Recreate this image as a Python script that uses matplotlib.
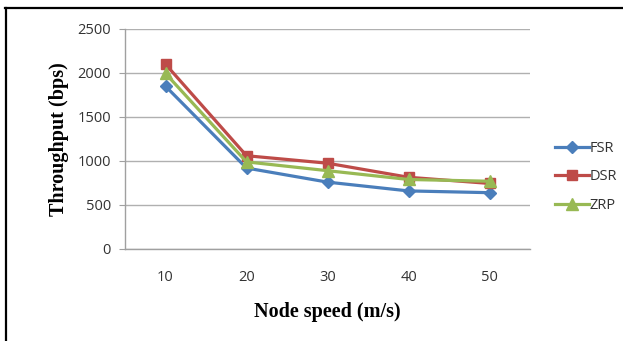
import matplotlib
matplotlib.use("Agg")
import matplotlib.pyplot as plt
from matplotlib.lines import Line2D

speeds = ["10", "20", "30", "40", "50"]
fsr = [1850, 920, 760, 660, 640]
dsr = [2100, 1060, 975, 815, 745]
zrp = [1995, 990, 890, 790, 770]

series = [
    ("FSR", fsr, "#4a7ebb", "D", 6.5),
    ("DSR", dsr, "#be4b48", "s", 7.5),
    ("ZRP", zrp, "#98b954", "^", 8),
]

tick_font = "Open Sans"

W, H = 623, 341
fig = plt.figure(figsize=(W / 100, H / 100), dpi=100)
ax = fig.add_axes([125 / W, 1 - 249 / H, 405 / W, 220 / H])

x = list(range(len(speeds)))
for name, vals, color, marker, msize in series:
    ax.plot(x, vals, color=color, lw=2.3, marker=marker, ms=msize,
            mec=color, mfc=color, label=name, zorder=3)

ax.set_xlim(-0.5, len(speeds) - 0.5)
ax.set_ylim(0, 2500)
ax.set_yticks(range(0, 2501, 500))
ax.set_xticks(x)
ax.set_xticklabels(speeds)
ax.yaxis.grid(True, color="#b0b0b0", lw=1.0)
ax.axhline(0, color="#a0a0a0", lw=1.0, clip_on=False, zorder=1)
ax.set_axisbelow(True)

for side in ["top", "right", "bottom"]:
    ax.spines[side].set_visible(False)
ax.spines["left"].set_color("#a0a0a0")
ax.spines["left"].set_linewidth(1.0)

ax.tick_params(axis="y", length=4, color="#a0a0a0", labelsize=10.5,
               labelcolor="#333333", pad=6)
ax.tick_params(axis="x", length=0, labelsize=10.5, labelcolor="#333333", pad=15)
for lbl in ax.get_xticklabels() + ax.get_yticklabels():
    lbl.set_family(tick_font)

ax.set_xlabel("Node speed (m/s)", family="Liberation Serif", fontweight="bold",
              fontsize=14.5, labelpad=12)
ax.set_ylabel("Throughput (bps)", family="Liberation Serif", fontweight="bold",
              fontsize=14.5, labelpad=6)

leg = fig.legend(loc="center left", bbox_to_anchor=(555 / W, 1 - 177 / H),
                 frameon=False, fontsize=10.5, handlelength=2.3,
                 handletextpad=0.1, labelspacing=0.95, borderaxespad=0,
                 borderpad=0)
for t in leg.get_texts():
    t.set_family(tick_font)
    t.set_color("#333333")

# outer frame: only top and left edges are visible
fig.add_artist(Line2D([5 / W, 1], [1 - 8 / H, 1 - 8 / H], color="black",
                      lw=1.6, transform=fig.transFigure))
fig.add_artist(Line2D([6 / W, 6 / W], [0, 1 - 8 / H], color="black",
                      lw=1.6, transform=fig.transFigure))

fig.savefig("out.png", dpi=100)
